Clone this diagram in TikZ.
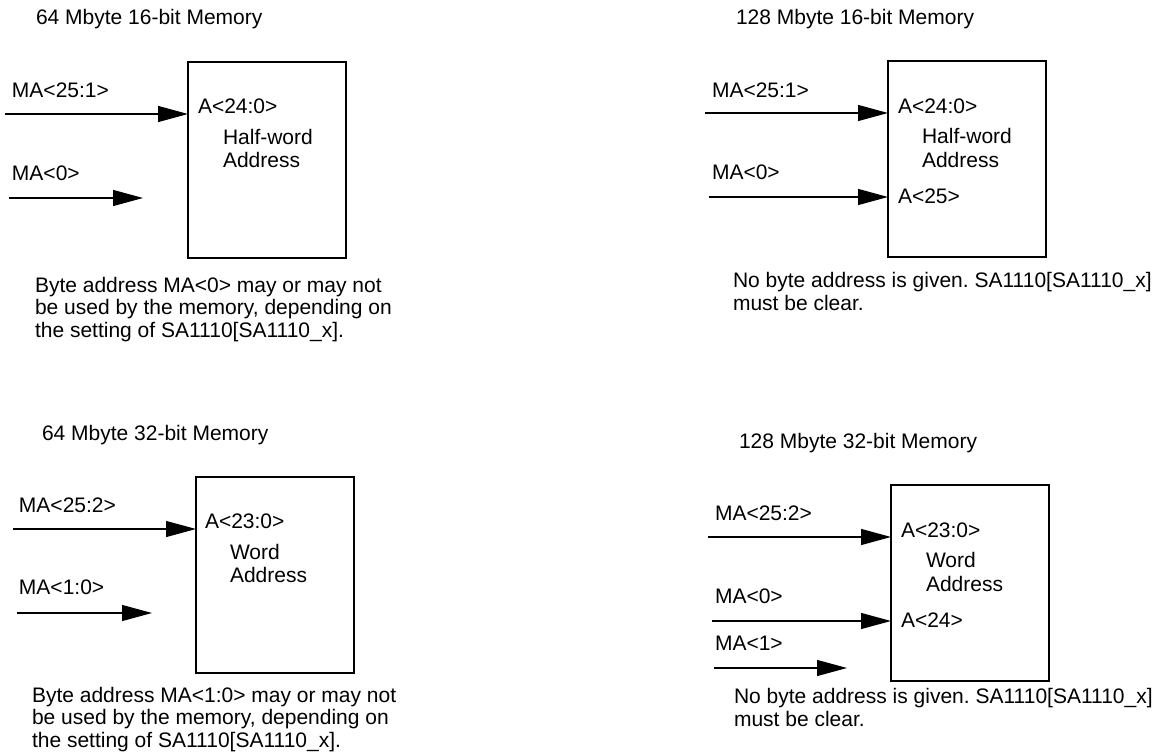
\documentclass[tikz,border=0pt]{standalone}
\usepackage{fontspec}
\setmainfont{Liberation Sans}
\usetikzlibrary{arrows.meta}
\frenchspacing
\tikzset{
  lbl/.style={anchor=base west, inner sep=0pt, outer sep=0pt},
  captxt/.style={anchor=base west, inner sep=0pt, outer sep=0pt, align=left},
  membox/.style={draw, line width=1.8pt, anchor=north west, inner sep=0pt, outer sep=0pt,
                 minimum width=158pt, minimum height=196pt},
  sig/.style={line width=1.2pt, -{Triangle[length=30pt,width=16pt]}}
}
\begin{document}
\begin{tikzpicture}[x=1pt,y=-1pt,font=\fontsize{21}{22.5}\selectfont]
\useasboundingbox (0,0) rectangle (1165,753);

% ---------- Quadrant 1: 64 Mbyte 16-bit ----------
\node[lbl] (t1) at (36,24) {64 Mbyte 16-bit Memory};
\node[membox] (b1) at (188,62) {};
\coordinate (p1a) at (5,114);
\coordinate (p1b) at (9,198);
\coordinate (e1b) at (143,198);
\draw[sig] (p1a) -- (p1a -| b1.west);
\draw[sig] (p1b) -- (e1b);
\node[lbl] (l1a) at (12,97) {MA<25:1>};
\node[lbl] (l1b) at (12,180) {MA<0>};
\node[lbl] (i1a) at (198,113) {A<24:0>};
\node[lbl] (i1b) at (223,144) {Half-word};
\node[lbl] (i1c) at (223,167) {Address};
% base anchor of a multi-line node = baseline of its last line
\node[captxt] (c1) at (35,337) {Byte address MA<0> may or may not\\be used by the memory, depending on\\the setting of SA1110[SA1110\_x].};

% ---------- Quadrant 2: 128 Mbyte 16-bit ----------
\node[lbl] (t2) at (736,24) {128 Mbyte 16-bit Memory};
\node[membox] (b2) at (888,61) {};
\coordinate (p2a) at (705,113);
\coordinate (p2b) at (709,197);
\draw[sig] (p2a) -- (p2a -| b2.west);
\draw[sig] (p2b) -- (p2b -| b2.west);
\node[lbl] (l2a) at (712,97) {MA<25:1>};
\node[lbl] (l2b) at (712,179) {MA<0>};
\node[lbl] (i2a) at (898,113) {A<24:0>};
\node[lbl] (i2b) at (922,143) {Half-word};
\node[lbl] (i2c) at (922,167) {Address};
\node[lbl] (i2d) at (898,203) {A<25>};
\node[captxt] (c2) at (733,310) {No byte address is given. SA1110[SA1110\_x]\\must be clear.};

% ---------- Quadrant 3: 64 Mbyte 32-bit ----------
\node[lbl] (t3) at (42,440) {64 Mbyte 32-bit Memory};
\node[membox] (b3) at (196,477) {};
\coordinate (p3a) at (13,529);
\coordinate (p3b) at (17,613);
\coordinate (e3b) at (152,613);
\draw[sig] (p3a) -- (p3a -| b3.west);
\draw[sig] (p3b) -- (e3b);
\node[lbl] (l3a) at (19,512) {MA<25:2>};
\node[lbl] (l3b) at (19,594) {MA<1:0>};
\node[lbl] (i3a) at (205,528) {A<23:0>};
\node[lbl] (i3b) at (230,559) {Word};
\node[lbl] (i3c) at (230,582) {Address};
\node[captxt] (c3) at (32,747) {Byte address MA<1:0> may or may not\\be used by the memory, depending on\\the setting of SA1110[SA1110\_x].};

% ---------- Quadrant 4: 128 Mbyte 32-bit ----------
\node[lbl] (t4) at (739,448) {128 Mbyte 32-bit Memory};
\node[membox] (b4) at (891,485) {};
\coordinate (p4a) at (708,537);
\coordinate (p4b) at (712,621);
\coordinate (p4c) at (714,668);
\coordinate (e4c) at (847,668);
\draw[sig] (p4a) -- (p4a -| b4.west);
\draw[sig] (p4b) -- (p4b -| b4.west);
\draw[sig] (p4c) -- (e4c);
\node[lbl] (l4a) at (715,520) {MA<25:2>};
\node[lbl] (l4b) at (715,603) {MA<0>};
\node[lbl] (l4c) at (715,650) {MA<1>};
\node[lbl] (i4a) at (901,537) {A<23:0>};
\node[lbl] (i4b) at (926,567) {Word};
\node[lbl] (i4c) at (926,591) {Address};
\node[lbl] (i4d) at (901,627) {A<24>};
\node[captxt] (c4) at (734,726) {No byte address is given. SA1110[SA1110\_x]\\must be clear.};
\end{tikzpicture}
\end{document}
